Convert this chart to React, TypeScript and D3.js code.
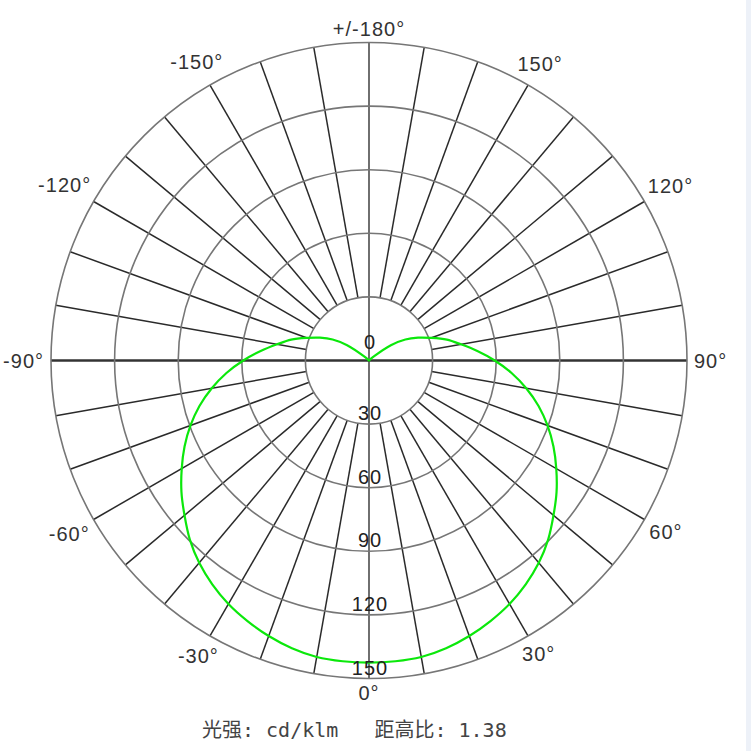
import React from "react";
import * as d3 from "d3";

// Polar angle (deg from nadir, positive toward the right) and intensity (cd/klm), symmetric curve
const curveAngles = [0, 5, 10, 15, 20, 25, 30, 35, 40, 45, 50, 55, 60, 65, 70, 75, 80, 85, 90, 95, 100, 105, 110, 115, 120, 125, 130, 135, 140, 145, 150, 155, 160, 165, 170, 175, 180];
const curveValues = [142.5, 142.4, 142.0, 140.5, 138.3, 135.6, 132.6, 128.9, 124.6, 119.5, 113.6, 108.0, 102.0, 96.0, 89.6, 82.8, 75.3, 67.5, 59.3, 51.3, 44.0, 38.0, 31.2, 25.5, 19.8, 12.6, 3.0, 0, 0, 0, 0, 0, 0, 0, 0, 0, 0];

const ringTicks = [0, 30, 60, 90, 120, 150];
const spokeAngles = [0, 10, 20, 30, 40, 50, 60, 70, 80, 90, 100, 110, 120, 130, 140, 150, 160, 170, 180, 190, 200, 210, 220, 230, 240, 250, 260, 270, 280, 290, 300, 310, 320, 330, 340, 350];
const angleLabelAngles = [0, 30, 60, 90, 120, 150, 180, -150, -120, -90, -60, -30];
const angleLabelTexts = ["0°", "30°", "60°", "90°", "120°", "150°", "+/-180°", "-150°", "-120°", "-90°", "-60°", "-30°"];
const footerText = "光强: cd/klm   距高比: 1.38";

const W = 751;
const H = 751;
const cx = 369;
const cy = 360.5;
const R = 318;
const FS = 20;

const charW: Record<string, number> = { "0": 0.556, "1": 0.556, "2": 0.556, "3": 0.556, "5": 0.556, "6": 0.556, "8": 0.556, "9": 0.556, "-": 0.333, "+": 0.584, "/": 0.278, "°": 0.4 };
function textWidth(s: string) {
  let w = 0;
  for (const ch of s) w += (charW[ch] ?? 0.556) * FS + 1;
  return w;
}

export default function App() {
  const r = d3.scaleLinear().domain([0, 150]).range([0, R]);
  const rad = (deg: number) => (deg * Math.PI) / 180;
  const pt = (deg: number, rr: number): [number, number] => [cx + rr * Math.sin(rad(deg)), cy + rr * Math.cos(rad(deg))];

  // full curve: right side 0..180, then left side back (symmetric distribution)
  const pts: { deg: number; v: number }[] = [];
  curveAngles.forEach((a, i) => pts.push({ deg: a, v: curveValues[i] }));
  for (let i = curveAngles.length - 2; i >= 1; i--) pts.push({ deg: -curveAngles[i], v: curveValues[i] });
  // drop duplicated zero points so the smoothing stays clean at the centre
  const cleaned = pts.filter((p) => !(p.v === 0 && Math.abs(p.deg) > 135));

  const line = d3
    .lineRadial<{ deg: number; v: number }>()
    .angle((d) => rad(180 - d.deg))
    .radius((d) => r(d.v))
    .curve(d3.curveCatmullRomClosed.alpha(0.5));

  const innerR = r(30);
  const full = [0, 90, 180, 270];

  return (
    <svg width={W} height={H} style={{ position: "absolute", left: 0, top: 0, background: "#fff" }}>
      <rect x={0} y={0} width={W} height={H} fill="#fff" />
      <rect x={746} y={0} width={5} height={H} fill="#edf1f8" />
      {/* spokes */}
      {spokeAngles
        .filter((a) => !full.includes(a))
        .map((a) => {
          const [x1, y1] = pt(a, innerR);
          const [x2, y2] = pt(a, R);
          return <line key={a} x1={x1} y1={y1} x2={x2} y2={y2} stroke="#2a2a2a" strokeWidth={1.5} />;
        })}
      {/* axes */}
      <line x1={cx - R} y1={cy} x2={cx + R} y2={cy} stroke="#333" strokeWidth={2.4} />
      <line x1={cx} y1={cy - R} x2={cx} y2={cy + R} stroke="#333" strokeWidth={1.4} />
      {/* rings */}
      {ringTicks
        .filter((t) => t > 0)
        .map((t) => (
          <circle key={t} cx={cx} cy={cy} r={r(t)} fill="none" stroke="#767676" strokeWidth={1.6} />
        ))}
      {/* curve */}
      <path d={line(cleaned) ?? ""} transform={`translate(${cx},${cy})`} fill="none" stroke="#0be80b" strokeWidth={2.2} />
      {/* ring labels */}
      {ringTicks.map((t) => (
        <text
          key={t}
          x={cx + 1}
          y={t === 0 ? cy - 19 : cy + r(t) - 11}
          textAnchor="middle"
          dominantBaseline="central"
          fontFamily="Liberation Sans, Arial, sans-serif"
          fontSize={FS}
          letterSpacing={1}
          fill="#222"
        >
          {t}
        </text>
      ))}
      {/* angle labels */}
      {angleLabelAngles.map((a, i) => {
        const s = angleLabelTexts[i];
        const w = textWidth(s);
        const ux = Math.sin(rad(a));
        const uy = Math.cos(rad(a));
        const dist = R + 7 + (w / 2) * Math.abs(ux) + 7 * Math.abs(uy);
        const [x, y] = pt(a, dist);
        return (
          <text
            key={a}
            x={x}
            y={y}
            textAnchor="middle"
            dominantBaseline="central"
            fontFamily="Liberation Sans, Arial, sans-serif"
            fontSize={FS}
            letterSpacing={1}
            fill="#333"
          >
            {s}
          </text>
        );
      })}
      {/* footer */}
      <text
        x={202}
        y={737}
        fontFamily="DejaVu Sans Mono, Noto Sans CJK SC, monospace"
        fontSize={20}
        fill="#444"
        style={{ whiteSpace: "pre" }}
      >
        {footerText}
      </text>
    </svg>
  );
}
